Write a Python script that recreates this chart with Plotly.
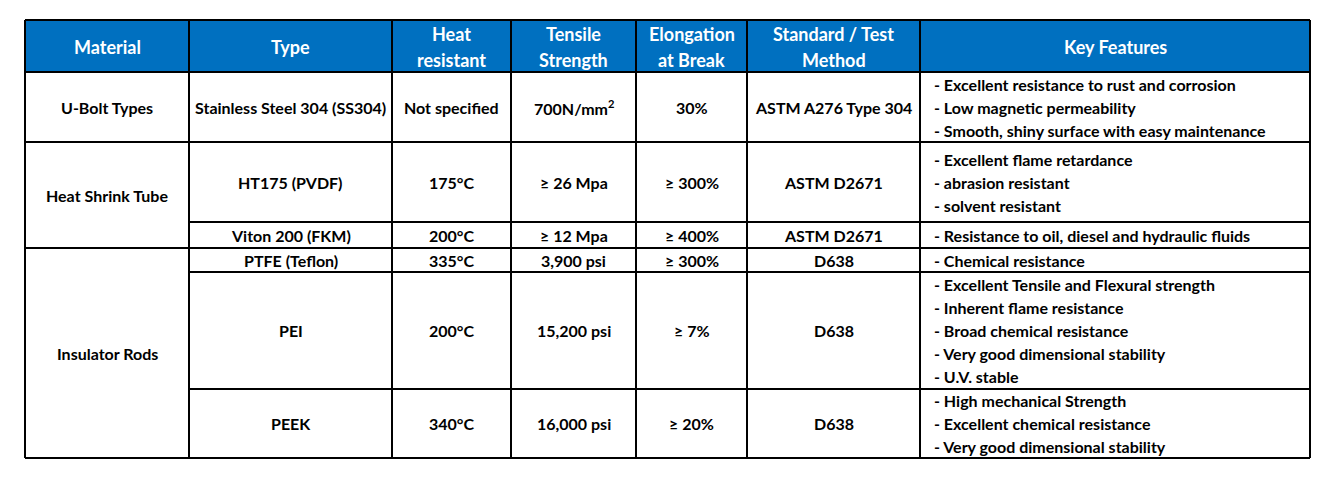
import plotly.graph_objects as go

# table content
headers = ["Material", "Type", "Heat<br>resistant", "Tensile<br>Strength",
           "Elongation<br>at Break", "Standard / Test<br>Method", "Key Features"]
materials = ["U-Bolt Types", "Heat Shrink Tube", "Insulator Rods"]
material_span = [1, 2, 3]
types = ["Stainless Steel 304 (SS304)", "HT175 (PVDF)", "Viton 200 (FKM)",
         "PTFE (Teflon)", "PEI", "PEEK"]
heat = ["Not specified", "175°C", "200°C", "335°C", "200°C", "340°C"]
tensile = ["700N/mm<sup>2</sup>", "≥ 26 Mpa", "≥ 12 Mpa", "3,900 psi",
           "15,200 psi", "16,000 psi"]
elongation = ["30%", "≥ 300%", "≥ 400%", "≥ 300%", "≥ 7%", "≥ 20%"]
standard = ["ASTM A276 Type 304", "ASTM D2671", "ASTM D2671", "D638", "D638", "D638"]
features = [
    ["- Excellent resistance to rust and corrosion",
     "- Low magnetic permeability",
     "- Smooth, shiny surface with easy maintenance"],
    ["- Excellent flame retardance", "- abrasion resistant", "- solvent resistant"],
    ["- Resistance to oil, diesel and hydraulic fluids"],
    ["- Chemical resistance"],
    ["- Excellent Tensile and Flexural strength", "- Inherent flame resistance",
     "- Broad chemical resistance", "- Very good dimensional stability",
     "- U.V. stable"],
    ["- High mechanical Strength", "- Excellent chemical resistance",
     "- Very good dimensional stability"],
]

# layout (page pixels; the page body has an 8px margin)
PAD = 8
col_edges = [25, 189, 392, 511, 636, 747, 920, 1310]
top = 20
row_heights = [52, 70, 80, 26, 24, 117, 69]
body_line = 23
head_line = 26
FONT = "Lato"
BLUE = "#0070C0"

row_edges = [top]
for h in row_heights:
    row_edges.append(row_edges[-1] + h)

fig = go.Figure()
shapes = []
ann = []

def add_lines(lines, x, yc, spacing, size, color, align="center"):
    n = len(lines)
    for i, t in enumerate(lines):
        y = yc + (i - (n - 1) / 2) * spacing
        ann.append(dict(x=x, y=y, text=t, showarrow=False, xref="x", yref="y",
                        xanchor=align, yanchor="middle",
                        font=dict(family=FONT, size=size, color=color, weight="bold")))

# header
shapes.append(dict(type="rect", x0=col_edges[0], x1=col_edges[-1], y0=row_edges[0],
                   y1=row_edges[1], fillcolor=BLUE, line=dict(width=0), layer="below"))
hc = (row_edges[0] + row_edges[1]) / 2
for j, h in enumerate(headers):
    xc = (col_edges[j] + col_edges[j + 1]) / 2
    add_lines(h.split("<br>"), xc, hc + 1, head_line, 18, "white")

# body rows
columns = [types, heat, tensile, elongation, standard]
for r in range(len(types)):
    y0, y1 = row_edges[r + 1], row_edges[r + 2]
    yc = (y0 + y1) / 2
    for j, col in enumerate(columns):
        xc = (col_edges[j + 1] + col_edges[j + 2]) / 2
        add_lines([col[r]], xc, yc, body_line, 16, "black")
    add_lines(features[r], col_edges[6] + 12, yc, body_line, 16, "black", align="left")

# merged material cells
r = 0
group_starts = []
for m, span in zip(materials, material_span):
    y0, y1 = row_edges[r + 1], row_edges[r + 1 + span]
    add_lines([m], (col_edges[0] + col_edges[1]) / 2, (y0 + y1) / 2, body_line, 16, "black")
    group_starts.append(r)
    r += span

# grid lines
lw = 2
for x in col_edges:
    shapes.append(dict(type="line", x0=x, x1=x, y0=row_edges[0], y1=row_edges[-1],
                       line=dict(color="black", width=lw)))
for i, y in enumerate(row_edges):
    body_row = i - 1
    full = i <= 1 or i == len(row_edges) - 1 or body_row in group_starts
    x0 = col_edges[0] if full else col_edges[1]
    shapes.append(dict(type="line", x0=x0, x1=col_edges[-1], y0=y, y1=y,
                       line=dict(color="black", width=lw)))

fig.update_layout(
    width=1336 - 2 * PAD, height=480 - 2 * PAD,
    margin=dict(l=0, r=0, t=0, b=0),
    paper_bgcolor="white", plot_bgcolor="white",
    xaxis=dict(range=[PAD, 1336 - PAD], visible=False, fixedrange=True),
    yaxis=dict(range=[480 - PAD, PAD], visible=False, fixedrange=True),
    shapes=shapes, annotations=ann, showlegend=False,
)

fig.write_html("out.html")
